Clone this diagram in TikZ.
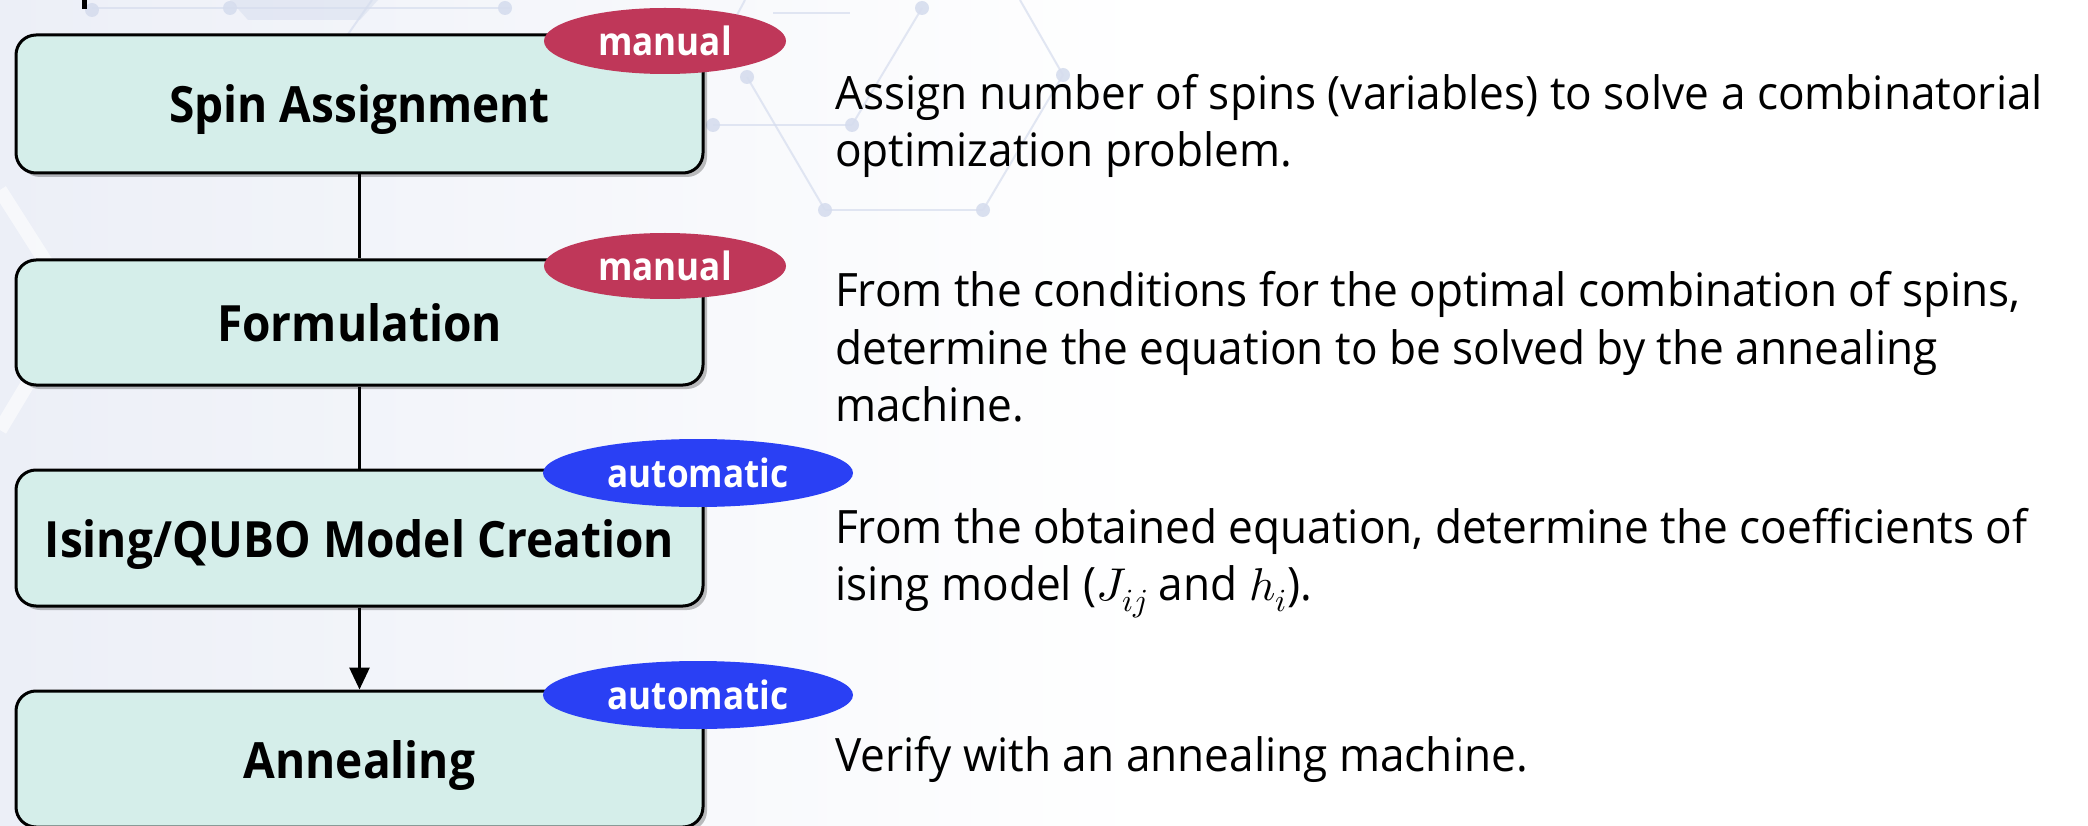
\documentclass[tikz,border=0pt]{standalone}
\usepackage{fontspec}
\usepackage{unicode-math}
\setmainfont{Open Sans}
\setmathfont{Latin Modern Math}
\newfontfamily\boxfont[FakeStretch=0.92]{Open Sans}
\newfontfamily\badgefont[FakeStretch=0.9]{Open Sans}
\newfontfamily\descfont[FakeStretch=0.96]{Open Sans}
\usetikzlibrary{shapes.geometric,arrows.meta,shadows}
\definecolor{boxfill}{HTML}{D5EEEA}
\definecolor{manualc}{HTML}{BF3759}
\definecolor{autoc}{HTML}{2A40F4}
\definecolor{hexc}{HTML}{D6DDEE}
\definecolor{bgl}{HTML}{ECEFF7}
\tikzset{
  stepbox/.style={draw=black, line width=3pt, rounded corners=20pt, fill=boxfill,
    minimum width=687pt, inner sep=0pt, text height=38pt, text depth=0pt,
    font=\boxfont\fontsize{50}{60}\selectfont\bfseries,
    drop shadow={shadow xshift=4pt, shadow yshift=-4pt, opacity=0.25, fill=black}},
  badge/.style={ellipse, inner sep=0pt, text=white, font=\badgefont\fontsize{39}{44}\selectfont\bfseries},
  manualbadge/.style={badge, fill=manualc, minimum width=242pt, minimum height=66pt},
  autobadge/.style={badge, fill=autoc, minimum width=310pt, minimum height=68pt},
  desc/.style={anchor=base west, inner sep=0pt, font=\descfont\fontsize{46}{55}\selectfont},
  link/.style={line width=3pt, draw=black},
  hexline/.style={draw=hexc, line width=2pt, opacity=0.7},
  hexdot/.style={fill=hexc, opacity=0.9},
  lightband/.style={draw=white, line width=14pt, opacity=0.6},
}
\begin{document}
\begin{tikzpicture}[x=1pt,y=-1pt]
\useasboundingbox (0,0) rectangle (2088,826);
% background
\fill[white] (0,0) rectangle (2088,826);
\shade[left color=bgl, right color=white] (0,0) rectangle (1150,826);
% faint light bands on the left
\draw[lightband] (0,190) -- (70,300);
\draw[lightband] (0,430) -- (60,330);
% faint hex network
\fill[hexc, opacity=0.5] (230,0) -- (378,0) -- (360,20) -- (248,20) -- cycle;
\draw[hexline] (92,8) -- (510,8);
\draw[hexline] (773,13) -- (850,13);
\draw[hexline] (713,125) -- (852,125);
\draw[hexline] (825,210) -- (983,210);
\draw[hexline] (922,8) -- (852,125);
\draw[hexline] (747,77) -- (825,210);
\draw[hexline] (1020,0) -- (1063,75) -- (983,210);
\draw[hexline] (745,0) -- (713,60);
\draw[hexline] (372,0) -- (330,60);
\foreach \p in {(92,10),(230,8),(505,8),(713,125),(747,77),(852,125),(922,8),(1063,75),(825,210),(983,210)}
  \fill[hexdot] \p circle (7);
% small mark at top
\fill[black] (82,0) rectangle (87,9);
% boxes
\node[stepbox, minimum height=138pt] (b1) at (359.5,104) {Spin Assignment};
\node[stepbox, minimum height=125pt] (b2) at (359.5,322.5) {Formulation};
\node[stepbox, minimum height=136pt] (b3) at (359.5,538) {Ising/QUBO Model Creation};
\node[stepbox, minimum height=136pt] (b4) at (359.5,759) {Annealing};
% connectors
\draw[link] (b1.south) -- (b2.north);
\draw[link] (b2.south) -- (b3.north);
\draw[link, -{Triangle[width=20pt,length=22pt]}] (b3.south) -- (b4.north);
% badges
\node[manualbadge] (m1) at (665,41) {manual};
\node[manualbadge] (m2) at (665,266) {manual};
\node[autobadge] (a1) at (698,473) {automatic};
\node[autobadge] (a2) at (698,695) {automatic};
% descriptions
\node[desc] (d1a) at (835,110) {Assign number of spins (variables) to solve a combinatorial};
\node[desc] (d1b) at (835,167) {optimization problem.};
\node[desc] (d2a) at (835,307) {From the conditions for the optimal combination of spins,};
\node[desc] (d2b) at (835,364) {determine the equation to be solved by the annealing};
\node[desc] (d2c) at (835,421) {machine.};
\node[desc] (d3a) at (835,543) {From the obtained equation, determine the coefficients of};
\node[desc] (d3b) at (835,600) {ising model ($J_{ij}$ and $h_i$).};
\node[desc] (d4) at (835,771) {Verify with an annealing machine.};
\end{tikzpicture}
\end{document}
